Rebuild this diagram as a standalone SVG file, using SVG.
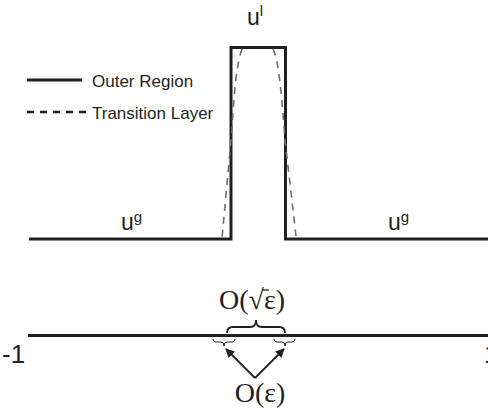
<svg xmlns="http://www.w3.org/2000/svg" width="488" height="415" viewBox="0 0 488 415">
<defs>
<style>
.solid{fill:none;stroke:#231f20;stroke-width:3}
.dash{fill:none;stroke:#6d6e71;stroke-width:1.6;stroke-dasharray:7,6}
.sans{font-family:"Liberation Sans",Arial,sans-serif;fill:#231f20}
.serif{font-family:"Liberation Serif","Times New Roman",serif;fill:#231f20}
.brace{fill:none;stroke:#231f20}
.arrow{fill:none;stroke:#231f20;stroke-width:1.8;marker-end:url(#ah)}
</style>
<marker id="ah" viewBox="0 0 10 10" refX="9" refY="5" markerWidth="5" markerHeight="5" orient="auto" markerUnits="strokeWidth">
<path d="M0,0 L10,5 L0,10 Z" fill="#231f20"/>
</marker>
</defs>
<rect width="488" height="415" fill="#ffffff"/>
<g id="legend">
<line class="solid" x1="27" y1="80" x2="82" y2="80"/>
<text class="sans" x="92" y="87" font-size="17">Outer Region</text>
<line class="dash" x1="27" y1="112" x2="87" y2="112" style="stroke:#231f20;stroke-width:2.5"/>
<text class="sans" x="92" y="119" font-size="17">Transition Layer</text>
</g>
<g id="outer-region">
<path class="solid" d="M29,239 L231,239 L231,47.5 L285.5,47.5 L285.5,239 L488,239"/>
</g>
<g id="transition-layer">
<path class="dash" d="M242,49 C237,62 234,90 232,130 L222,238"/>
<path class="dash" d="M273,49 C279,60 282,100 285,140 L296,236"/>
</g>
<g id="labels">
<text class="sans" x="247" y="25" font-size="23">u<tspan font-size="15" dy="-9">l</tspan></text>
<text class="sans" x="121" y="230" font-size="23">u<tspan font-size="15" dy="-8">g</tspan></text>
<text class="sans" x="388" y="230" font-size="23">u<tspan font-size="15" dy="-8">g</tspan></text>
</g>
<g id="axis">
<line x1="28" y1="335.5" x2="488" y2="335.5" stroke="#231f20" stroke-width="3"/>
<text class="sans" x="2" y="363" font-size="26">-1</text>
<text class="sans" x="484" y="363" font-size="26">1</text>
</g>
<g id="braces">
<path class="brace" stroke-width="1.8" d="M227,333 Q227,327 233,327 L250,327 Q256,327 256,320 Q256,327 262,327 L279,327 Q285,327 285,333"/>
<path class="brace" stroke-width="1" d="M213,339 Q213,342 216,342 L221,342 Q224,342 224,346 Q224,342 227,342 L232,342 Q235,342 235,339"/>
<path class="brace" stroke-width="1" d="M274,339 Q274,342 277,342 L282,342 Q285,342 285,346 Q285,342 288,342 L292,342 Q295,342 295,339"/>
</g>
<g id="connectors">
<line class="arrow" x1="255" y1="378" x2="226" y2="349"/>
<line class="arrow" x1="255" y1="378" x2="284" y2="349"/>
</g>
<g id="math-labels">
<text class="serif" x="219" y="309" font-size="28">O(√ε)</text>
<line x1="262" y1="290" x2="269" y2="290" stroke="#231f20" stroke-width="1.3"/>
<text class="serif" x="260" y="402" font-size="28" text-anchor="middle">O(ε)</text>
</g>
</svg>
